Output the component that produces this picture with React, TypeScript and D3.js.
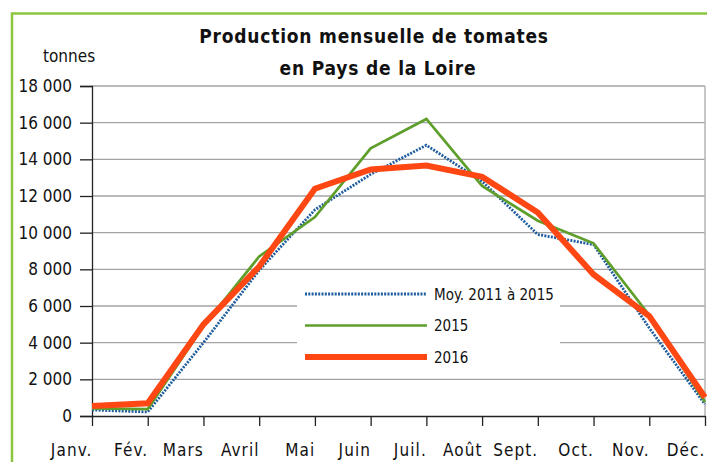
import React, { useEffect, useRef } from 'react';
import * as d3 from 'd3';

const months = ['Janv.', 'Fév.', 'Mars', 'Avril', 'Mai', 'Juin', 'Juil.', 'Août', 'Sept.', 'Oct.', 'Nov.', 'Déc.'];
const moyenne = [330, 220, 4000, 7950, 11250, 13180, 14770, 12800, 9900, 9350, 4800, 640];
const prod2015 = [420, 380, 4900, 8700, 10850, 14600, 16200, 12550, 10650, 9420, 5500, 760];
const prod2016 = [545, 690, 5000, 8150, 12400, 13450, 13660, 13050, 11100, 7720, 5450, 1020];
const yTicks = [0, 2000, 4000, 6000, 8000, 10000, 12000, 14000, 16000, 18000];
const seriesLabels = ['Moy. 2011 à 2015', '2015', '2016'];

const W = 707;
const H = 462;
const FONT = '"DejaVu Sans Condensed", "DejaVu Sans", sans-serif';

export default function App() {
    const svgRef = useRef<SVGSVGElement>(null);

    useEffect(() => {
        if (!svgRef.current) return;
        const svg = d3.select(svgRef.current);
        svg.selectAll("*").remove();

        const margin = { top: 86, right: 2, left: 92, bottom: 46 };
        const width = W - margin.left - margin.right;
        const height = H - margin.top - margin.bottom;

        // Outer green frame
        svg.append("rect")
            .attr("x", 12).attr("y", 13.5)
            .attr("width", W + 20).attr("height", H + 20)
            .attr("fill", "white")
            .attr("stroke", "#8cc63e")
            .attr("stroke-width", 2.5);

        // Title
        const title = svg.append("text")
            .attr("text-anchor", "middle")
            .style("font-family", FONT)
            .style("font-weight", "bold")
            .style("font-size", "19px")
            .style("letter-spacing", "0.8px")
            .attr("fill", "#111");
        title.append("tspan").attr("x", 374).attr("y", 42.5).text("Production mensuelle de tomates");
        title.append("tspan").attr("x", 378).attr("y", 75).text("en Pays de la Loire");

        svg.append("text")
            .attr("x", 43).attr("y", 62)
            .style("font-family", FONT)
            .style("font-size", "17px")
            .attr("fill", "#111")
            .text("tonnes");

        const g = svg.append("g")
            .attr("transform", `translate(${margin.left},${margin.top})`);

        const x = d3.scalePoint<string>()
            .domain(months)
            .range([0, width])
            .padding(0);

        const y = d3.scaleLinear()
            .domain([0, 18000])
            .range([height, 0]);

        const fmt = d3.formatLocale({ decimal: ",", thousands: " ", grouping: [3], currency: ["", ""] }).format(",");

        // Gridlines
        g.selectAll(".grid")
            .data(yTicks.filter(t => t > 0))
            .join("line")
            .attr("x1", 0).attr("x2", width)
            .attr("y1", d => y(d)).attr("y2", d => y(d))
            .attr("stroke", "#a3a3a3")
            .attr("stroke-width", 1.3);

        // right border
        g.append("line")
            .attr("x1", width).attr("x2", width)
            .attr("y1", 0).attr("y2", height)
            .attr("stroke", "#b5b5b5")
            .attr("stroke-width", 1.5);

        // Y axis
        const yAxis = g.append("g")
            .call(d3.axisLeft(y).tickValues(yTicks).tickSize(12).tickPadding(8).tickFormat(d => fmt(+d)));
        yAxis.select(".domain").attr("stroke", "#222").attr("stroke-width", 1.3);
        yAxis.selectAll(".tick line").attr("stroke", "#222").attr("stroke-width", 1.3);
        yAxis.selectAll("text")
            .style("font-family", FONT)
            .style("font-size", "17px")
            .attr("fill", "#111");

        // X axis
        const xAxis = g.append("g")
            .attr("transform", `translate(0,${height})`)
            .call(d3.axisBottom(x).tickSize(10).tickSizeOuter(0));
        xAxis.select(".domain").attr("stroke", "#222").attr("stroke-width", 1.3);
        xAxis.selectAll(".tick line").attr("stroke", "#222").attr("stroke-width", 1.3);
        xAxis.selectAll("text")
            .attr("text-anchor", "end")
            .attr("x", 0)
            .attr("y", 40)
            .attr("dy", 0)
            .style("font-family", FONT)
            .style("font-size", "17px")
            .style("letter-spacing", "1.1px")
            .attr("fill", "#111");

        const line = d3.line<number>()
            .x((d, i) => x(months[i])!)
            .y(d => y(d));

        const styles = [
            { data: moyenne, color: "#1d5c9e", width: 2.8, dash: "2,1.3" },
            { data: prod2015, color: "#5e9e2a", width: 2.7, dash: null },
            { data: prod2016, color: "#ff4713", width: 6, dash: null },
        ];

        styles.forEach(s => {
            g.append("path")
                .datum(s.data)
                .attr("d", line)
                .attr("fill", "none")
                .attr("stroke", s.color)
                .attr("stroke-width", s.width)
                .attr("stroke-linejoin", "miter")
                .attr("stroke-dasharray", s.dash);
        });

        // Legend
        const legend = svg.append("g");
        legend.append("rect")
            .attr("x", 297).attr("y", 273)
            .attr("width", 263).attr("height", 104)
            .attr("fill", "white");
        styles.forEach((s, i) => {
            const ly = 294 + i * 31.5;
            legend.append("line")
                .attr("x1", 305).attr("x2", 427)
                .attr("y1", ly).attr("y2", ly)
                .attr("stroke", s.color)
                .attr("stroke-width", s.width)
                .attr("stroke-dasharray", s.dash);
            legend.append("text")
                .attr("x", 434).attr("y", ly + 5.5)
                .style("font-family", FONT)
                .style("font-size", "15px")
                .attr("fill", "#111")
                .text(seriesLabels[i]);
        });
    }, []);

    return (
        <svg ref={svgRef} width={W} height={H}
            style={{ position: 'absolute', left: 0, top: 0, background: 'white' }} />
    );
}
